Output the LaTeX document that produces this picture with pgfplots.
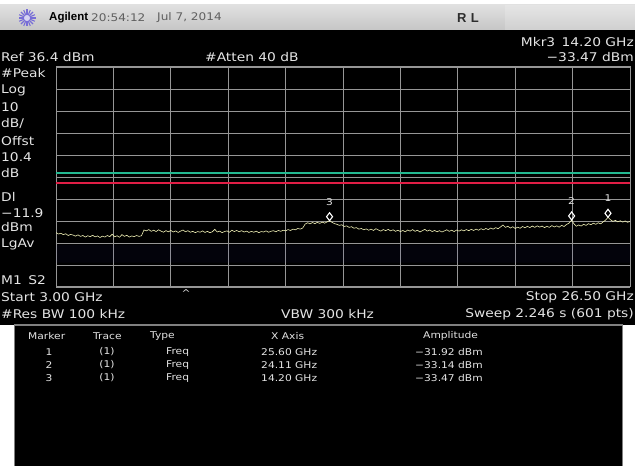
\documentclass[border=0pt]{standalone}
\usepackage{fontspec}
\usepackage{pgfplots}
\usepackage{pgfplotstable}
\pgfplotsset{compat=1.18}

\newfontfamily\scr[FakeStretch=1.15]{DejaVu Sans}
\newfontfamily\lib{Liberation Sans}
\newcommand{\st}{\scr\fontsize{12}{12}\selectfont}
\newcommand{\sm}{\scr\fontsize{9.3}{9.5}\selectfont}

\definecolor{scrtxt}{RGB}{228,228,228}
\definecolor{gridc}{RGB}{150,150,150}
\definecolor{tracec}{RGB}{238,238,180}
\definecolor{logo}{RGB}{120,110,215}

% trace 1, 3.00 - 26.50 GHz (dBm)
\pgfplotstableread{
f y
3.0 -38.9
3.1 -39.5
3.2 -39.2
3.3 -39.8
3.4 -39.4
3.5 -40.2
3.6 -39.7
3.7 -40.0
3.8 -40.5
3.9 -39.9
4.0 -40.6
4.1 -40.2
4.2 -40.9
4.3 -40.3
4.4 -40.7
4.5 -40.1
4.6 -40.8
4.7 -40.4
4.8 -41.1
4.9 -40.5
5.0 -40.9
5.1 -40.2
5.2 -40.7
5.3 -39.6
5.4 -40.8
5.5 -40.3
5.6 -41.0
5.7 -39.8
5.8 -40.6
5.9 -40.1
6.0 -40.9
6.1 -40.4
6.2 -40.7
6.3 -40.2
6.4 -40.6
6.5 -40.3
6.6 -37.7
6.7 -38.1
6.8 -37.5
6.9 -38.3
7.0 -37.8
7.1 -38.4
7.2 -37.6
7.3 -38.2
7.4 -38.7
7.5 -38.0
7.6 -38.5
7.7 -37.9
7.8 -38.6
7.9 -38.1
8.0 -38.8
8.1 -38.2
8.2 -37.7
8.3 -38.5
8.4 -38.0
8.5 -38.7
8.6 -38.3
8.7 -38.9
8.8 -38.4
8.9 -38.7
9.0 -38.1
9.1 -38.8
9.2 -38.3
9.3 -38.9
9.4 -38.5
9.5 -37.4
9.6 -38.6
9.7 -38.2
9.8 -38.9
9.9 -38.4
10.0 -38.1
10.1 -38.7
10.2 -37.8
10.3 -38.4
10.4 -37.9
10.5 -38.5
10.6 -38.0
10.7 -38.6
10.8 -38.2
10.9 -38.8
11.0 -38.3
11.1 -38.7
11.2 -38.2
11.3 -38.9
11.4 -38.4
11.5 -38.6
11.6 -38.1
11.7 -38.7
11.8 -38.3
11.9 -38.0
12.0 -38.5
12.1 -37.9
12.2 -38.3
12.3 -37.8
12.4 -38.1
12.5 -37.5
12.6 -37.9
12.7 -37.3
12.8 -37.6
12.9 -37.0
13.0 -37.3
13.1 -36.8
13.2 -35.0
13.3 -34.4
13.4 -34.9
13.5 -34.3
13.6 -34.8
13.7 -34.2
13.8 -34.7
13.9 -34.1
14.0 -34.6
14.1 -34.0
14.2 -33.47
14.3 -34.2
14.4 -34.8
14.5 -35.1
14.6 -35.6
14.7 -35.3
14.8 -36.1
14.9 -35.8
15.0 -36.5
15.1 -36.2
15.2 -36.9
15.3 -36.6
15.4 -37.3
15.5 -37.0
15.6 -37.6
15.7 -37.2
15.8 -37.8
15.9 -37.3
16.0 -37.9
16.1 -37.1
16.2 -37.7
16.3 -38.2
16.4 -37.5
16.5 -38.0
16.6 -37.4
16.7 -38.1
16.8 -37.6
16.9 -38.3
17.0 -37.8
17.1 -38.4
17.2 -37.9
17.3 -38.5
17.4 -37.7
17.5 -38.2
17.6 -37.5
17.7 -38.3
17.8 -37.8
17.9 -38.6
18.0 -38.0
18.1 -37.4
18.2 -38.2
18.3 -37.7
18.4 -38.4
18.5 -37.9
18.6 -38.5
18.7 -38.0
18.8 -38.6
18.9 -38.1
19.0 -37.6
19.1 -38.3
19.2 -37.8
19.3 -38.4
19.4 -37.7
19.5 -38.2
19.6 -37.6
19.7 -38.1
19.8 -37.5
19.9 -38.0
20.0 -37.4
20.1 -37.9
20.2 -37.3
20.3 -37.8
20.4 -37.1
20.5 -37.6
20.6 -37.0
20.7 -37.5
20.8 -36.8
20.9 -37.3
21.0 -36.6
21.1 -37.1
21.2 -36.3
21.3 -35.4
21.4 -36.5
21.5 -36.0
21.6 -36.8
21.7 -36.2
21.8 -37.0
21.9 -36.4
22.0 -36.9
22.1 -36.1
22.2 -36.7
22.3 -36.0
22.4 -36.6
22.5 -35.9
22.6 -36.5
22.7 -35.8
22.8 -36.4
22.9 -35.9
23.0 -36.6
23.1 -36.0
23.2 -36.5
23.3 -35.7
23.4 -36.3
23.5 -35.8
23.6 -36.4
23.7 -35.6
23.8 -36.1
23.9 -35.2
24.0 -34.6
24.11 -33.14
24.2 -34.8
24.3 -36.0
24.4 -35.4
24.5 -35.9
24.6 -35.1
24.7 -35.6
24.8 -34.8
24.9 -35.3
25.0 -34.6
25.1 -35.1
25.2 -34.4
25.3 -34.9
25.4 -34.0
25.5 -33.2
25.6 -31.92
25.7 -33.0
25.8 -33.8
25.9 -33.3
26.0 -34.0
26.1 -33.5
26.2 -34.1
26.3 -33.6
26.4 -34.2
26.5 -33.8
}\trace

\pgfplotstableread{
f y m
25.60 -31.92 1
24.11 -33.14 2
14.20 -33.47 3
}\markers

\begin{document}
\begin{tikzpicture}[x=1pt,y=1pt]
\useasboundingbox (0,0) rectangle (635,466);
\fill[white] (0,0) rectangle (635,466);
\fill[black] (0,0) rectangle (635,436);
% title bar
\shade[top color={rgb,255:red,224;green,224;blue,224}, bottom color={rgb,255:red,198;green,198;blue,198}] (0,436) rectangle (635,461);
\fill[white, opacity=0.18] (505,436) rectangle (635,461);
\foreach \a in {0,22.5,...,337.5} \draw[logo, line width=1.1] (27,448) -- ++(\a:8.5);
\fill[white!70!logo] (27,448) circle (3);
\node[anchor=west, inner sep=0, font=\lib\bfseries\fontsize{11.5}{12}\selectfont] at (49,448) {Agilent};
\node[anchor=west, inner sep=0, text={rgb,255:red,95;green,95;blue,95}, font=\scr\fontsize{10.5}{11}\selectfont] at (91,448) {20:54:12};
\node[anchor=west, inner sep=0, text={rgb,255:red,95;green,95;blue,95}, font=\scr\fontsize{10.5}{11}\selectfont] at (157,448) {Jul 7, 2014};
\node[anchor=west, inner sep=0, text={rgb,255:red,45;green,45;blue,45}, font=\lib\bfseries\fontsize{13}{13}\selectfont] at (457,448) {R\,\,L};

% marker table panel
\fill[white] (0,0) rectangle (14,141);
\fill[white] (623,0) rectangle (635,141);
\draw[gray, line width=1.2] (14.6,-1) -- (14.6,141) -- (622.4,141) -- (622.4,-1);

\begin{scope}[every node/.style={inner sep=0, text=scrtxt, font=\st}]
\node[anchor=west] at (1,409) {Ref 36.4 dBm};
\node[anchor=west] at (205,409) {\#Atten 40 dB};
\node[anchor=east] at (634,424) {Mkr3\, 14.20 GHz};
\node[anchor=east] at (634,409) {−33.47 dBm};
\node[anchor=west] at (1,393) {\#Peak};
\node[anchor=west] at (1,376) {Log};
\node[anchor=west] at (1,359) {10};
\node[anchor=west] at (1,342) {dB/};
\node[anchor=west] at (1,325) {Offst};
\node[anchor=west] at (1,309) {10.4};
\node[anchor=west] at (1,293) {dB};
\node[anchor=west] at (1,269) {Dl};
\node[anchor=west] at (1,253) {−11.9};
\node[anchor=west] at (1,239) {dBm};
\node[anchor=west] at (1,222) {LgAv};
\node[anchor=west] at (1,186) {M1\, S2};
\node[anchor=west] at (1,169) {Start 3.00 GHz};
\node[anchor=east] at (634,169) {Stop 26.50 GHz};
\node[font=\sm] at (186,173) {\^{}};
\node[anchor=west] at (1,152) {\#Res BW 100 kHz};
\node[anchor=west] at (281,152) {VBW 300 kHz};
\node[anchor=east] at (634,152) {Sweep 2.246 s (601 pts)};
\end{scope}

\begin{scope}[every node/.style={inner sep=0, text=scrtxt, font=\sm}]
\node[anchor=west] at (28,130) {Marker};
\node[anchor=west] at (93,130) {Trace};
\node[anchor=west] at (150,130) {Type};
\node[anchor=west] at (271,130) {X Axis};
\node[anchor=west] at (423,130) {Amplitude};
\node at (49,114) {1};
\node at (107,114) {(1)};
\node[anchor=west] at (166,114) {Freq};
\node[anchor=west] at (261,114) {25.60 GHz};
\node[anchor=west] at (415,114) {−31.92 dBm};
\node at (49,101) {2};
\node at (107,101) {(1)};
\node[anchor=west] at (166,101) {Freq};
\node[anchor=west] at (261,101) {24.11 GHz};
\node[anchor=west] at (415,101) {−33.14 dBm};
\node at (49,88) {3};
\node at (107,88) {(1)};
\node[anchor=west] at (166,88) {Freq};
\node[anchor=west] at (261,88) {14.20 GHz};
\node[anchor=west] at (415,88) {−33.47 dBm};
\end{scope}

\begin{axis}[
    at={(56pt,179pt)}, anchor=south west,
    scale only axis, width=574pt, height=220pt,
    xmin=3, xmax=26.5, ymin=-63.6, ymax=36.4,
    xtick={3,5.35,7.7,10.05,12.4,14.75,17.1,19.45,21.8,24.15,26.5},
    ytick={-63.6,-53.6,-43.6,-33.6,-23.6,-13.6,-3.6,6.4,16.4,26.4,36.4},
    xticklabels={}, yticklabels={},
    major tick length=0,
    grid=major,
    grid style={gridc, line width=0.8pt},
    axis line style={gridc, line width=1pt},
]
\addplot[draw=none, fill={rgb,255:red,40;green,40;blue,150}, fill opacity=0.08]
    coordinates {(3,-44.5) (26.5,-44.5) (26.5,-52.5) (3,-52.5) (3,-44.5)};
% display line and limit line
\addplot[draw={rgb,255:red,35;green,185;blue,145}, line width=2pt, mark=none] coordinates {(3,-12.0) (26.5,-12.0)};
\addplot[draw={rgb,255:red,225;green,30;blue,70}, line width=2pt, mark=none] coordinates {(3,-16.55) (26.5,-16.55)};
\addplot[color=tracec, line width=0.6pt, sharp plot, mark=none] table[x=f, y=y] {\trace};
\addplot[only marks, color=white, mark=diamond, mark size=4pt,
    mark options={yshift=4pt, line width=1.1pt},
    nodes near coords, point meta=explicit symbolic,
    every node near coord/.style={anchor=center, yshift=15pt, text=scrtxt, inner sep=0, font=\sm}]
    table[x=f, y=y, meta=m] {\markers};
\end{axis}
\end{tikzpicture}
\end{document}
